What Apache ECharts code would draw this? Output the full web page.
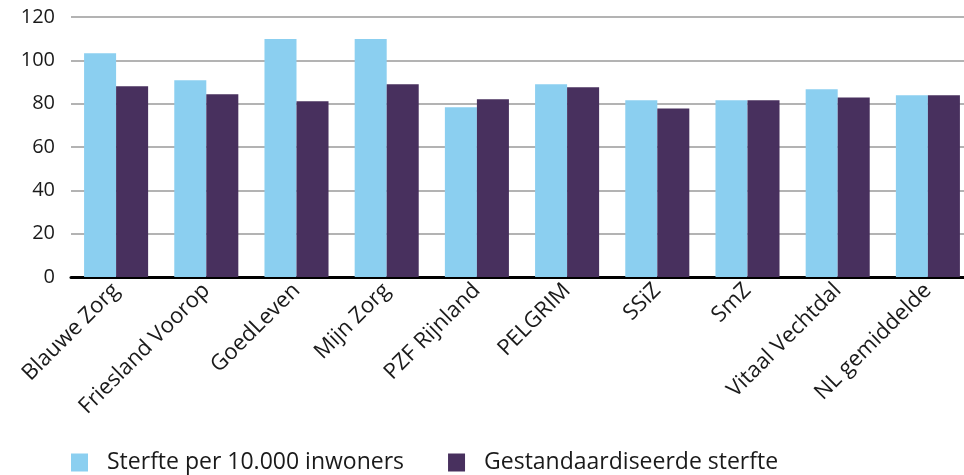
<!DOCTYPE html>
<html>
<head>
<meta charset="utf-8">
<script src="https://cdn.jsdelivr.net/npm/echarts@6/dist/echarts.min.js"></script>
<style>
  html, body { margin: 0; padding: 0; background: #fff; overflow: hidden; }
  #main { width: 973px; height: 475px; }
</style>
</head>
<body>
<div id="main"></div>
<script>
const categories = ['Blauwe Zorg', 'Friesland Voorop', 'GoedLeven', 'Mijn Zorg', 'PZF Rijnland',
  'PELGRIM', 'SSiZ', 'SmZ', 'Vitaal Vechtdal', 'NL gemiddelde']
const sterfte = [103.3, 90.8, 109.8, 109.8, 78.3, 89.0, 81.6, 81.6, 86.7, 83.9]
const gestandaardiseerd = [88.0, 84.3, 81.1, 89.0, 82.0, 87.6, 77.8, 81.6, 82.9, 83.9]
const seriesNames = ['Sterfte per 10.000 inwoners', 'Gestandaardiseerde sterfte']

const font = 'Open Sans'
// the plot runs a bit past the right edge of the window, so the div is wider than 964
let chart = echarts.init(document.getElementById('main'))
chart.setOption({
  animation: false,
  textStyle: { fontFamily: font },
  grid: { left: 71, right: 0, top: 17, bottom: 198 },
  legend: {
    left: 66,
    top: 446,
    itemWidth: 17,
    itemHeight: 18,
    itemGap: 44,
    icon: 'rect',
    textStyle: { fontSize: 23, color: '#1a1a1a', padding: [0, 0, 0, 14] },
    data: seriesNames
  },
  xAxis: {
    type: 'category',
    data: categories,
    axisLine: { lineStyle: { color: '#000', width: 3 } },
    axisTick: { show: false },
    axisLabel: { rotate: 45, fontSize: 22, color: '#1a1a1a', margin: 10, interval: 0 }
  },
  yAxis: {
    type: 'value',
    min: 0,
    max: 120,
    interval: 20,
    axisLine: { show: false },
    axisTick: { show: false },
    axisLabel: { fontSize: 20, color: '#1a1a1a', margin: 16 },
    splitLine: { lineStyle: { color: '#9a9a9a', width: 1.5 } }
  },
  series: [
    {
      name: seriesNames[0],
      type: 'bar',
      data: sterfte,
      barGap: '0%',
      barCategoryGap: '29%',
      itemStyle: { color: '#8bcff0' }
    },
    {
      name: seriesNames[1],
      type: 'bar',
      data: gestandaardiseerd,
      barGap: '0%',
      barCategoryGap: '29%',
      itemStyle: { color: '#48305e' }
    }
  ]
})
</script>
</body>
</html>
